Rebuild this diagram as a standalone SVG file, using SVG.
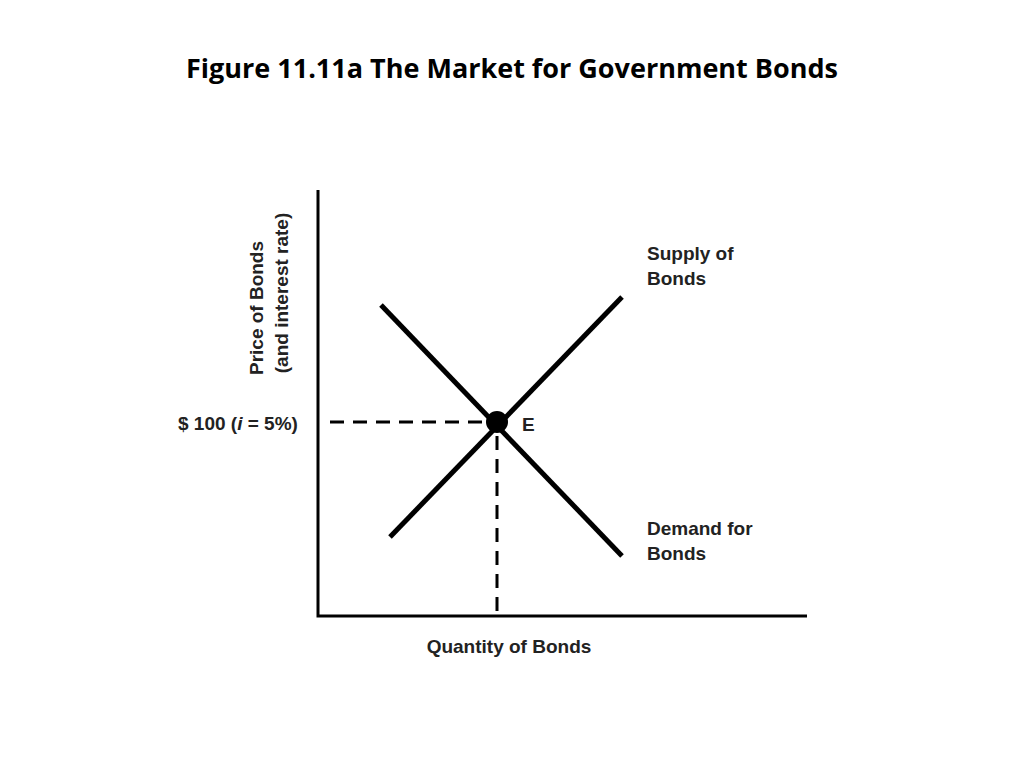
<svg xmlns="http://www.w3.org/2000/svg" width="1024" height="768" viewBox="0 0 1024 768">
<style>
.t{font-family:"Liberation Sans",Arial,sans-serif;font-weight:bold;font-size:19px;fill:#222}
.ln{stroke:#000;stroke-width:5;fill:none}
.ax{stroke:#000;stroke-width:3;fill:none}
.d{stroke:#000;stroke-width:3;stroke-dasharray:14,9;fill:none}
</style>
<rect width="1024" height="768" fill="#fff"/>
<text x="512" y="78" text-anchor="middle" style="font-family:'Open Sans','Liberation Sans',sans-serif;font-weight:bold;font-size:27px" fill="#000">Figure 11.11a The Market for Government Bonds</text>
<g id="connectors">
<path class="ax" d="M318 190V616H807"/>
<path class="d" d="M330 422H492"/>
<path class="d" d="M497 436V614"/>
<path class="ln" d="M381 305L622 556"/>
<path class="ln" d="M390 537L622 297"/>
</g>
<g id="E"><circle cx="497" cy="422" r="11" fill="#000"/><text class="t" x="522" y="431">E</text></g>
<g id="supply"><text class="t" x="647" y="260">Supply of</text><text class="t" x="647" y="285">Bonds</text></g>
<g id="demand"><text class="t" x="647" y="535">Demand for</text><text class="t" x="647" y="560">Bonds</text></g>
<g id="price"><text class="t" x="178" y="430">$ 100 (<tspan font-style="italic">i</tspan> = 5%)</text></g>
<g id="yaxis"><text class="t" transform="translate(263,308) rotate(-90)" text-anchor="middle">Price of Bonds</text><text class="t" transform="translate(288,293) rotate(-90)" text-anchor="middle">(and interest rate)</text></g>
<g id="xaxis"><text class="t" x="509" y="653" text-anchor="middle">Quantity of Bonds</text></g>
</svg>
